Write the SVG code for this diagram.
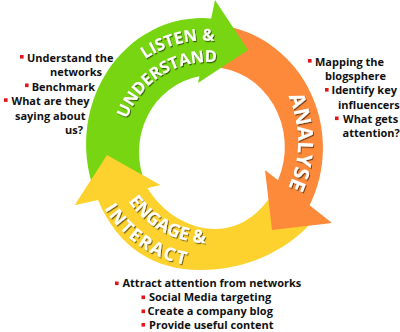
<svg xmlns="http://www.w3.org/2000/svg" width="400" height="332" viewBox="0 0 400 332">
<style>
.ring{font-family:"Open Sans","Liberation Sans",sans-serif;font-weight:700;fill:#fff;filter:url(#ts)}
.bl{font-family:"Open Sans","Liberation Sans",sans-serif;font-weight:700;font-size:11px;fill:#111}
.bu{fill:#e3141b}
.green{fill:#77d512}
.orange{fill:#fc8a3a}
.yellow{fill:#fdd22e}
</style>
<defs>
<filter id="ts" x="-10%" y="-20%" width="125%" height="150%"><feDropShadow dx="1" dy="1.2" stdDeviation="0.6" flood-color="#000" flood-opacity="0.55"/></filter>
<path id="p-listen" d="M118.1,85.9 A106,106 0 0 1 251.1,51.1"/>
<path id="p-under" d="M122.0,151.0 A86,86 0 0 1 248,71.9"/>
<path id="p-analyse" d="M264.9,62.1 A113,113 0 0 1 264.9,221.9"/>
<path id="p-engage" d="M111,148.5 A97,97 0 0 0 258.7,228.7"/>
<path id="p-interact" d="M87.4,136.5 A121,121 0 0 0 260.1,255.2"/>
</defs>
<rect width="400" height="332" fill="#fff"/>
<g id="engage-arrow">
<path class="yellow" d="M312,222 C285,252 245,270 200,270 C155,270 118,248 98,200 L75,205 L107,155 L160,185 L147.5,188 C162,212 188,229 215,229 C238,229 255,217 268,200 Z"/>
</g>
<g id="analyse">
<path class="orange" d="M225.1,25.8 A118,124 0 0 1 309.6,205.2 L332,223 L272,230 L265,170 L278,180.3 A75,80 0 0 0 212,67 Z"/>
<text class="ring" font-size="21"><textPath href="#p-analyse" startOffset="50%" text-anchor="middle">ANALYSE</textPath></text>
<rect class="bu" x="308" y="59" width="3.6" height="3.6"/>
<text class="bl" x="315" y="65.5">Mapping the</text>
<text class="bl" x="325" y="79.8">blogsphere</text>
<rect class="bu" x="325" y="88" width="3.6" height="3.6"/>
<text class="bl" x="331.5" y="94.3">Identify key</text>
<text class="bl" x="338" y="108.6">influencers</text>
<rect class="bu" x="335" y="116.5" width="3.6" height="3.6"/>
<text class="bl" x="343" y="123">What gets</text>
<text class="bl" x="342.5" y="137.3">attention?</text>
</g>
<g id="listen">
<path class="green" d="M96.9,197.2 A116,126 0 0 1 211.2,18.4 L215,0 L248,50 L198,83 L199.4,76.2 A73,77 0 0 0 145.8,184.5 Z"/>
<text class="ring" font-size="16.5"><textPath href="#p-listen" startOffset="50%" text-anchor="middle">LISTEN &amp;</textPath></text>
<text class="ring" font-size="16.5"><textPath href="#p-under" startOffset="50%" text-anchor="middle">UNDERSTAND</textPath></text>
<rect class="bu" x="20" y="55" width="3.6" height="3.6"/>
<text class="bl" x="27" y="62">Understand the</text>
<text class="bl" x="50" y="76.4">networks</text>
<rect class="bu" x="25" y="83.5" width="3.6" height="3.6"/>
<text class="bl" x="31.7" y="90.8">Benchmark</text>
<rect class="bu" x="4" y="98.3" width="3.6" height="3.6"/>
<text class="bl" x="11.5" y="105.2">What are they</text>
<text class="bl" x="15" y="119.6">saying about</text>
<text class="bl" x="65" y="134">us?</text>
</g>
<g id="engage">
<polygon class="yellow" points="75,205 107,155 160,185"/>
<text class="ring" font-size="18"><textPath href="#p-engage" startOffset="50%" text-anchor="middle">ENGAGE &amp;</textPath></text>
<text class="ring" font-size="18" letter-spacing="2"><textPath href="#p-interact" startOffset="50%" text-anchor="middle">INTERACT</textPath></text>
<rect class="bu" x="115" y="281.5" width="3.6" height="3.6"/>
<text class="bl" x="122.5" y="287">Attract attention from networks</text>
<rect class="bu" x="141.5" y="295.5" width="3.6" height="3.6"/>
<text class="bl" x="149" y="301">Social Media targeting</text>
<rect class="bu" x="141.5" y="309.5" width="3.6" height="3.6"/>
<text class="bl" x="147.5" y="315">Create a company blog</text>
<rect class="bu" x="141.5" y="323" width="3.6" height="3.6"/>
<text class="bl" x="149" y="329">Provide useful content</text>
</g>
</svg>
